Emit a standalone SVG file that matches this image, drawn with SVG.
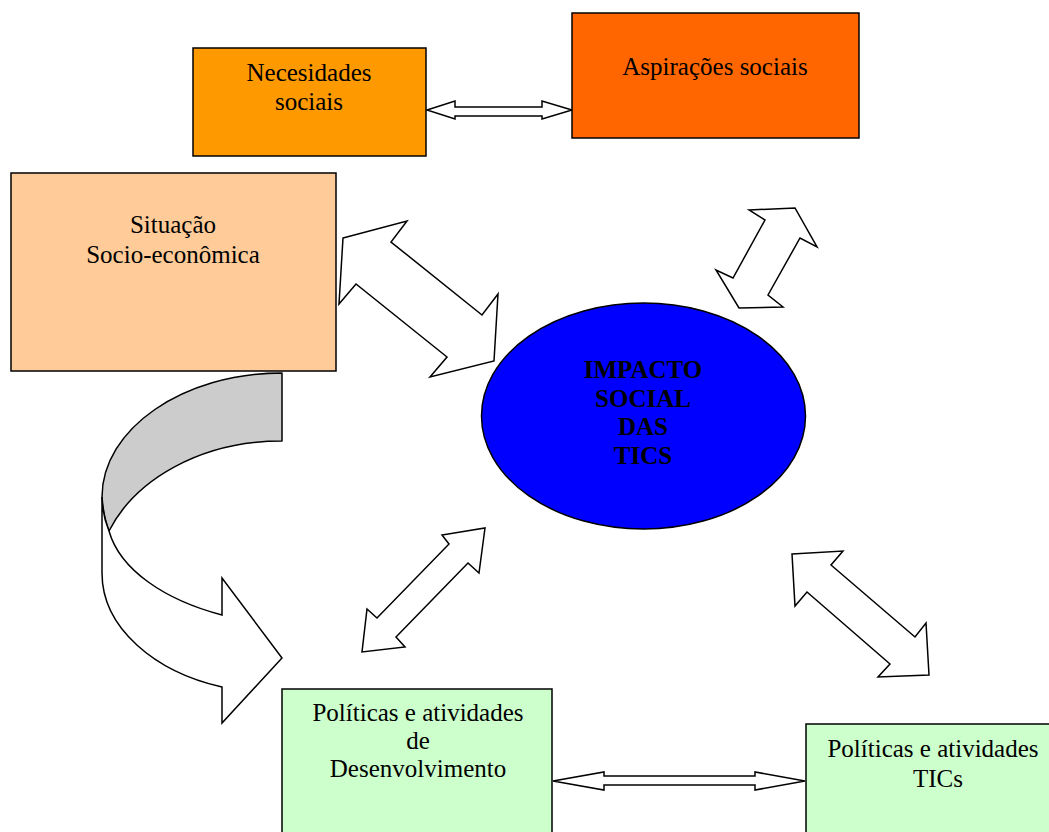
<svg xmlns="http://www.w3.org/2000/svg" width="1049" height="832" viewBox="0 0 1049 832">
<style>
.box{stroke:#000;stroke-width:1.5}
.t{font-family:"Liberation Serif","Times New Roman",serif;font-size:25px;fill:#000;text-anchor:middle}
.tb{font-family:"Liberation Serif","Times New Roman",serif;font-size:25px;font-weight:bold;fill:#000;text-anchor:middle}
.arr{fill:#fff;stroke:#000;stroke-width:1.5;stroke-linejoin:miter}
</style>
<rect width="1049" height="832" fill="#fff"/>
<g id="connectors">
<polygon class="arr" points="427,110 455,101 455,107 542,107 542,101 572,110 542,119 542,116 455,116 455,119"/>
<polygon class="arr" points="553,781 604,772 604,776 755,776 755,772 805,781 755,790 755,785 604,785 604,790"/>
<polygon class="arr" points="343,238 407,221 391,242 482,315 498,294 494,361 430,377 447,357 356,284 339,304"/>
<polygon class="arr" points="749,210 795,208 817,247 800,238 768,295 783,307 739,308 716,270 733,278 765,220"/>
<polygon class="arr" points="485,528 479,573 468,563 396,637 405,647 362,652 367,609 377,618 449,544 442,535"/>
<polygon class="arr" points="792,554 843,551 831,565 915,637 926,623 929,675 878,677 890,664 807,592 795,606"/>
<path d="M282,373 C183,373 102,429 102,497 C103,510 105,521 109,531 C135,480 200,441 282,441 Z" fill="#ccc" stroke="#000" stroke-width="1.5" stroke-linejoin="round"/>
<path d="M102,497 L102,573 C102,628 155,672 222,687 L222,723 L282,658 L222,578 L222,615 C165,600 120,570 109,531 C105,521 102,510 102,497 Z" fill="#fff" stroke="#000" stroke-width="1.5" stroke-linejoin="miter"/>
</g>
<g id="necesidades">
<rect class="box" x="193" y="48" width="233" height="108" fill="#FF9900"/>
<text class="t" x="309" y="81">Necesidades</text>
<text class="t" x="309" y="110">sociais</text>
</g>
<g id="aspiracoes">
<rect class="box" x="572" y="13" width="287" height="125" fill="#FF6600"/>
<text class="t" x="715" y="75">Aspirações sociais</text>
</g>
<g id="situacao">
<rect class="box" x="11" y="173" width="325" height="198" fill="#FFCC99"/>
<text class="t" x="173" y="233">Situação</text>
<text class="t" x="173" y="263">Socio-econômica</text>
</g>
<g id="impacto">
<ellipse cx="643.5" cy="416" rx="162" ry="113" fill="#0000FF" stroke="#000" stroke-width="1.5"/>
<text class="tb" x="643" y="378">IMPACTO</text>
<text class="tb" x="643" y="407">SOCIAL</text>
<text class="tb" x="643" y="435">DAS</text>
<text class="tb" x="643" y="464">TICS</text>
</g>
<g id="desenvolvimento">
<rect class="box" x="282" y="689" width="270" height="150" fill="#CCFFCC"/>
<text class="t" x="418" y="721">Políticas e atividades</text>
<text class="t" x="418" y="749">de</text>
<text class="t" x="418" y="777">Desenvolvimento</text>
</g>
<g id="tics">
<rect class="box" x="806" y="724" width="250" height="115" fill="#CCFFCC"/>
<text class="t" x="933" y="757">Políticas e atividades</text>
<text class="t" x="938" y="787">TICs</text>
</g>
</svg>
